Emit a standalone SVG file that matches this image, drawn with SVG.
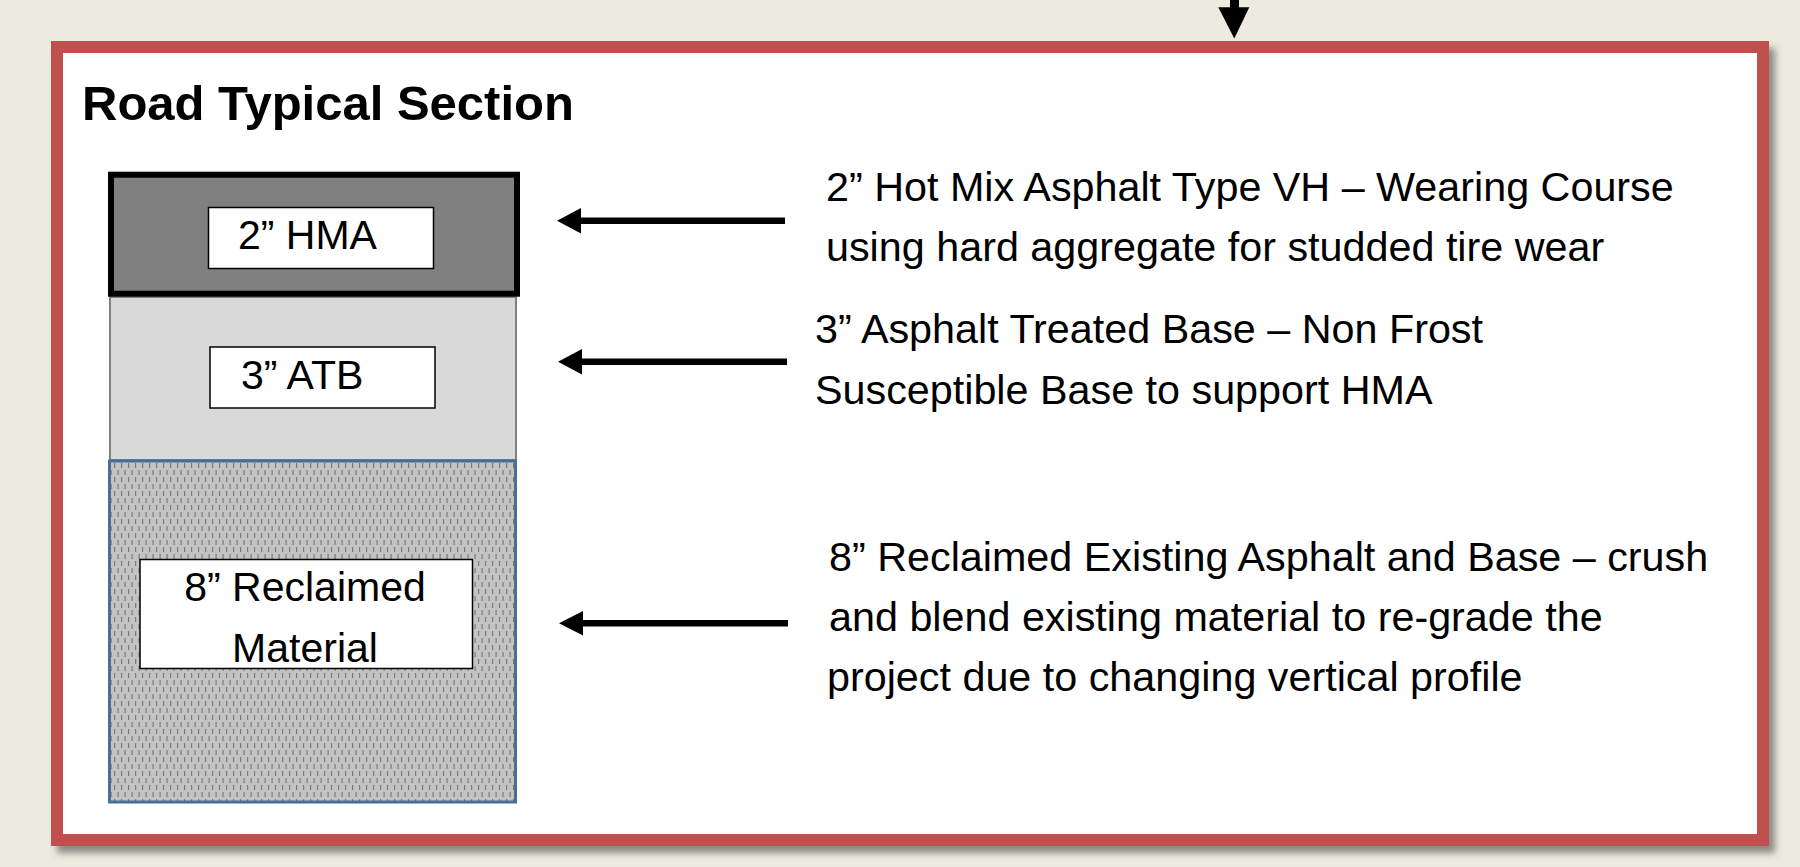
<svg xmlns="http://www.w3.org/2000/svg" width="1800" height="867" viewBox="0 0 1800 867">
  <style>
    .desc { font-family: "Liberation Sans", Arial, sans-serif; font-size: 41.3px; fill: #000; }
    .lbl { font-family: "Liberation Sans", Arial, sans-serif; font-size: 41px; fill: #000; }
    .title { font-family: "Liberation Sans", Arial, sans-serif; font-size: 49px; font-weight: bold; fill: #000; }
    .lblbox { fill: #fff; stroke: #000; stroke-width: 1.5; }
    .conn { stroke: #000; stroke-width: 6.5; fill: none; }
    .head { fill: #000; }
  </style>
  <defs>
    <filter id="shadow" x="-5%" y="-5%" width="112%" height="115%">
      <feDropShadow dx="6" dy="7" stdDeviation="3.5" flood-color="#4a4a4a" flood-opacity="0.6"/>
    </filter>
    <pattern id="dashes" x="0" y="0" width="7" height="14" patternUnits="userSpaceOnUse">
      <rect x="0" y="0" width="7" height="14" fill="#C3C3C3"/>
      <rect x="2" y="1" width="1.2" height="5" fill="#7a7a7a"/>
      <rect x="5.5" y="8" width="1.2" height="5" fill="#7a7a7a"/>
    </pattern>
  </defs>

  <rect x="0" y="0" width="1800" height="867" fill="#EDEADF"/>

  <g id="frame">
    <rect x="51" y="41" width="1718" height="805" fill="#fff" filter="url(#shadow)"/>
    <rect x="57" y="47" width="1706" height="793" fill="#fff" stroke="#C0504D" stroke-width="12"/>
  </g>

  <g id="title">
    <text class="title" x="82" y="120">Road Typical Section</text>
  </g>

  <g id="layer-atb">
    <rect x="110" y="297" width="406" height="163" fill="#D9D9D9" stroke="#808080" stroke-width="2"/>
    <rect class="lblbox" x="210" y="347" width="225" height="61"/>
    <text class="lbl" x="241" y="389">3” ATB</text>
  </g>

  <g id="layer-reclaimed">
    <rect x="109.5" y="461" width="406" height="341" fill="url(#dashes)" stroke="#4A6F96" stroke-width="3"/>
    <rect class="lblbox" x="140" y="559.5" width="332.5" height="109"/>
    <text class="lbl" x="305" y="601" text-anchor="middle">8” Reclaimed</text>
    <text class="lbl" x="305" y="662" text-anchor="middle">Material</text>
  </g>

  <g id="layer-hma">
    <rect x="111" y="174.7" width="406" height="119" fill="#808080" stroke="#000" stroke-width="6"/>
    <rect class="lblbox" x="208.5" y="207.5" width="225" height="61"/>
    <text class="lbl" x="238" y="249">2” HMA</text>
  </g>

  <g id="desc-hma">
    <text class="desc" x="826" y="201">2” Hot Mix Asphalt Type VH – Wearing Course</text>
    <text class="desc" x="826" y="261">using hard aggregate for studded tire wear</text>
  </g>

  <g id="desc-atb">
    <text class="desc" x="815" y="343">3” Asphalt Treated Base – Non Frost</text>
    <text class="desc" x="815" y="404">Susceptible Base to support HMA</text>
  </g>

  <g id="desc-reclaimed">
    <text class="desc" x="829" y="571">8” Reclaimed Existing Asphalt and Base – crush</text>
    <text class="desc" x="829" y="631">and blend existing material to re-grade the</text>
    <text class="desc" x="827" y="691">project due to changing vertical profile</text>
  </g>

  <g id="connectors">
    <line class="conn" x1="785" y1="220.7" x2="576" y2="220.7"/>
    <polygon class="head" points="557,220.7 581,208 581,233.4"/>
    <line class="conn" x1="787" y1="361.7" x2="578" y2="361.7"/>
    <polygon class="head" points="558,361.7 582,349 582,374.4"/>
    <line class="conn" x1="788" y1="623.3" x2="579" y2="623.3"/>
    <polygon class="head" points="559,623.3 583,611 583,635.6"/>
    <rect x="1230" y="0" width="9" height="9" fill="#000"/>
    <polygon class="head" points="1218.3,7.3 1249.3,7.3 1234.3,38.5"/>
  </g>
</svg>
